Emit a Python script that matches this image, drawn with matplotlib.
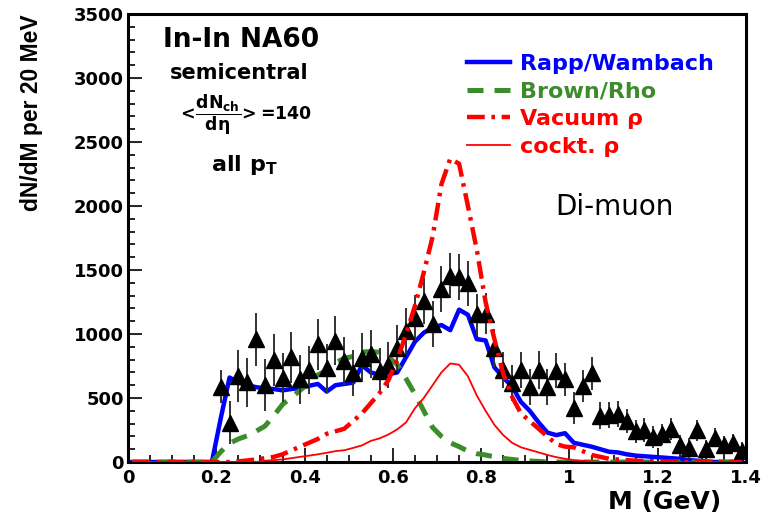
import numpy as np
import matplotlib
matplotlib.use("Agg")
import matplotlib.pyplot as plt
from matplotlib.ticker import MultipleLocator

plt.rcParams["font.family"] = ["DejaVu Sans"]
plt.rcParams["font.weight"] = "bold"
plt.rcParams["mathtext.fontset"] = "custom"
plt.rcParams["mathtext.rm"] = "DejaVu Sans:bold"
plt.rcParams["mathtext.it"] = "DejaVu Sans:bold"
plt.rcParams["mathtext.bf"] = "DejaVu Sans:bold"

# bin centres of the model curves (20 MeV bins)
mass = np.round(np.arange(0.01, 1.40, 0.02), 2)

rapp_wambach = [0, 0, 0, 0, 0, 0, 0, 0, 0, 0,
                340, 660, 620, 600, 585, 575, 570, 560, 570, 578,
                595, 610, 550, 600, 610, 620, 755, 700, 680, 685,
                700, 820, 940, 1010, 1050, 1070, 1030, 1190, 1150, 960,
                950, 740, 660, 590, 470, 400, 310, 230, 210, 225,
                150, 135, 120, 100, 80, 75, 60, 50, 45, 40,
                35, 30, 25, 15, 10, 5, 0, 0, 0, 0]

brown_rho = [0, 0, 0, 0, 0, 0, 0, 0, 0, 0,
             80, 146, 180, 205, 240, 280, 360, 450, 505, 560,
             620, 680, 715, 775, 810, 825, 860, 862, 858, 820,
             760, 650, 530, 400, 270, 200, 150, 120, 85, 65,
             55, 40, 28, 20, 12, 8, 5, 0, 0, 0,
             0, 0, 0, 0, 0, 0, 0, 0, 0, 0,
             0, 0, 0, 0, 0, 0, 0, 0, 0, 0]

vacuum_rho = [0, 0, 0, 0, 0, 0, 0, 0, 0, 0,
              0, 0, 5, 12, 20, 30, 40, 60, 90, 120,
              150, 180, 220, 240, 260, 320, 380, 460, 540, 640,
              800, 1000, 1220, 1480, 1760, 2170, 2370, 2330, 2000, 1660,
              1250, 960, 690, 510, 380, 320, 260, 200, 140, 120,
              115, 85, 55, 40, 25, 20, 15, 10, 8, 5,
              0, 0, 0, 0, 0, 0, 0, 0, 0, 0]

cockt_rho = [0, 0, 0, 0, 0, 0, 0, 0, 0, 0,
             0, 0, 0, 0, 0, 10, 15, 20, 30, 40,
             50, 60, 72, 85, 92, 110, 130, 165, 185, 215,
             255, 310, 420, 500, 600, 700, 770, 760, 670, 520,
             400, 290, 210, 150, 115, 95, 75, 55, 38, 25,
             15, 10, 5, 0, 0, 0, 0, 0, 0, 0,
             0, 0, 0, 0, 0, 0, 0, 0, 0, 0]

# NA60 excess di-muon data
data_m = np.round(np.arange(0.21, 1.40, 0.02), 2)
data_y = [588, 307, 672, 623, 958, 602, 797, 659, 818, 646,
          719, 920, 732, 948, 789, 693, 815, 844, 713, 758,
          888, 1023, 1123, 1260, 1078, 1349, 1456, 1448, 1396, 1156,
          1160, 892, 719, 615, 719, 583, 719, 583, 713, 646,
          420, 594, 693, 363, 365, 375, 320, 242, 250, 195,
          215, 256, 133, 107, 247, 99, 190, 130, 148, 88]
data_err = [130, 170, 200, 190, 210, 200, 200, 190, 200, 190,
            190, 200, 190, 190, 190, 180, 190, 190, 180, 180,
            180, 180, 180, 180, 180, 180, 175, 180, 175, 160,
            160, 150, 140, 140, 140, 140, 145, 140, 135, 130,
            125, 125, 130, 105, 100, 100, 95, 90, 90, 85,
            85, 85, 80, 80, 80, 75, 75, 75, 72, 70]

fig = plt.figure(figsize=(7.73, 5.13), dpi=100)
ax = fig.add_axes([0.1656, 0.0994, 0.7995, 0.8733])

ax.errorbar(data_m, data_y, yerr=data_err, fmt="^", color="black",
            ecolor="#333333", elinewidth=1.4, markersize=11, capsize=0, zorder=2.5)

ax.plot(mass, rapp_wambach, color="#0000ff", lw=3.2, label="Rapp/Wambach", zorder=2)
ax.plot(mass, brown_rho, color="#3c8c2c", lw=3.6, ls=(0, (3.2, 2.2)),
        label="Brown/Rho", zorder=2)
ax.plot(mass, vacuum_rho, color="#ff0000", lw=3.2, ls=(0, (4, 1.5, 0.8, 1.5)),
        label="Vacuum ρ", zorder=3)
ax.plot(mass, cockt_rho, color="#ff0000", lw=1.3, label="cockt. ρ", zorder=3)

ax.set_xlim(0, 1.4)
ax.set_ylim(0, 3500)
ax.xaxis.set_minor_locator(MultipleLocator(0.05))
ax.yaxis.set_major_locator(MultipleLocator(500))
ax.yaxis.set_minor_locator(MultipleLocator(100))
ax.set_xticks([0, 0.2, 0.4, 0.6, 0.8, 1.0, 1.2, 1.4])
ax.set_xticklabels(["0", "0.2", "0.4", "0.6", "0.8", "1", "1.2", "1.4"])
ax.tick_params(axis="both", which="both", direction="in", top=False, right=False,
               labelsize=13, width=1.2)
ax.tick_params(axis="both", which="major", length=10)
ax.tick_params(axis="both", which="minor", length=5)
ax.tick_params(axis="y", pad=3)
ax.tick_params(axis="x", pad=5)
for s in ax.spines.values():
    s.set_linewidth(2.2)

ax.set_ylabel("dN/dM per 20 MeV", fontsize=16.5, fontweight="bold",
              family=["Liberation Sans", "DejaVu Sans"], loc="top")
ax.yaxis.set_label_coords(-0.138, 1.0)
ax.set_xlabel("M (GeV)", fontsize=18, fontweight="bold", loc="right")
ax.xaxis.set_label_coords(0.96, -0.062)

ax.text(0.057, 0.942, "In-In NA60", transform=ax.transAxes, fontsize=19,
        va="center")
ax.text(0.068, 0.868, "semicentral", transform=ax.transAxes, fontsize=15,
        va="center")
ax.text(0.079, 0.775, r"$<\!\dfrac{dN_{ch}}{d\eta}\!>$=140", transform=ax.transAxes,
        fontsize=12.5, va="center")
ax.text(0.134, 0.663, r"all p$_{\rm T}$", transform=ax.transAxes, fontsize=16,
        va="center")
ax.text(0.691, 0.569, "Di-muon", transform=ax.transAxes, fontsize=20,
        fontweight="normal", va="center")

ax.legend(loc="upper left", bbox_to_anchor=(0.5485, 0.911), frameon=False,
          borderpad=0, borderaxespad=0, handlelength=1.95, handletextpad=0.45,
          labelspacing=0.34, labelcolor="linecolor",
          prop={"weight": "bold", "size": 16})

fig.savefig("out.png", dpi=100)
